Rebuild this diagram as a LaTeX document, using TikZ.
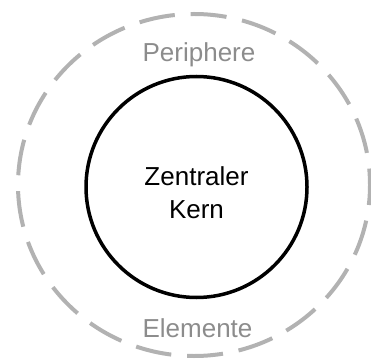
\documentclass[tikz,border=0pt]{standalone}
\usepackage{fontspec}
\setmainfont{Liberation Sans}
\definecolor{dashgray}{HTML}{B2B2B2}
\definecolor{textgray}{HTML}{8C8C8C}
\begin{document}
\begin{tikzpicture}[x=1pt,y=-1pt,
  outerring/.style={draw=dashgray, line width=4pt, dash pattern=on 36pt off 15.9pt, dash phase=16pt},
  kernring/.style={draw=black, line width=3.5pt, circle, minimum size=221pt, inner sep=0pt},
  lbl/.style={font=\fontsize{26}{33}\selectfont, inner sep=0pt},
  graylbl/.style={lbl, text=textgray, anchor=base}]
\useasboundingbox (0,0) rectangle (371,363);
\draw[outerring] (194,185) ellipse [x radius=176, y radius=171];
\node[kernring] (kern) at (196.5,187) {};
\node[lbl, align=center] (kerntext) at (196.5,193) {Zentraler\\Kern};
\node[graylbl] (periphere) at (199,62) {Periphere};
\node[graylbl] (elemente) at (197.5,337) {Elemente};
\end{tikzpicture}
\end{document}
